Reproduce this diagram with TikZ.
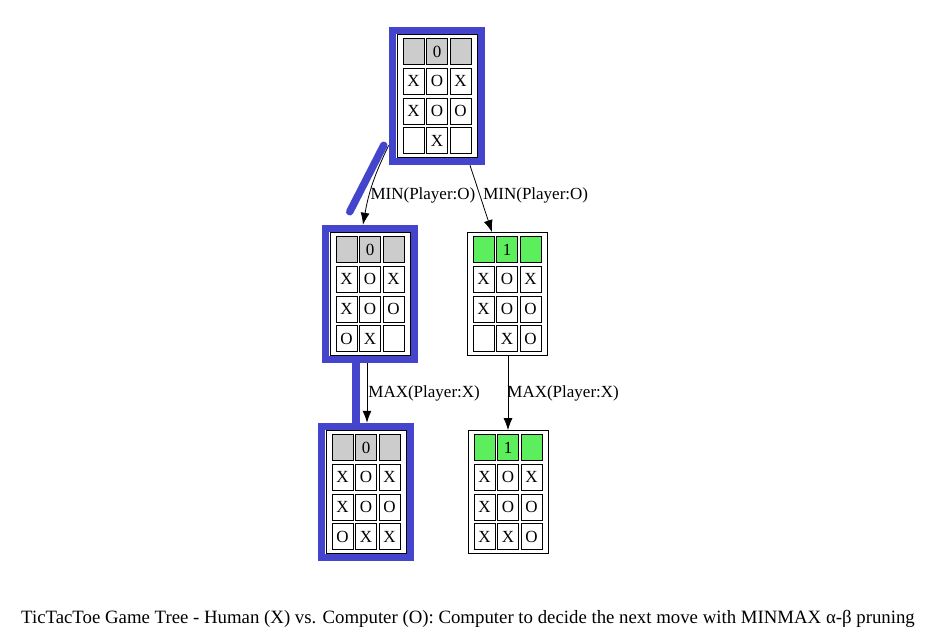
\documentclass[tikz,border=0pt]{standalone}
\usepackage{fontspec}
\setmainfont{Liberation Serif}
\usepackage{tikz}
\usetikzlibrary{calc,arrows.meta}
\definecolor{path_blue}{RGB}{68,68,204}
\definecolor{win_green}{RGB}{92,238,92}
\definecolor{score_gray}{RGB}{204,204,204}

% One board: name, fill of the score row, score, the three rows of marks
\newcommand{\board}[4]{%
  \foreach \cx [count=\ci] in {-23.5,0,23.5}
    \node[cell, fill=#2] (#1-0-\ci) at ($(#1)+(\cx,-44.5)$) {};
  \node[cell, draw=none] (#1-score) at ($(#1)+(0,-44.5)$) {#3};
  \foreach \ma/\mb/\mc [count=\row] in {#4} {
    \node[cell] (#1-\row-1) at ($(#1)+(-23.5,-44.5+29.7*\row)$) {\ma};
    \node[cell] (#1-\row-2) at ($(#1)+(0,-44.5+29.7*\row)$) {\mb};
    \node[cell] (#1-\row-3) at ($(#1)+(23.5,-44.5+29.7*\row)$) {\mc};
  }%
}

\begin{document}
\begin{tikzpicture}[
    x=1pt, y=-1pt,
    cell/.style={draw, line width=0.7pt, minimum width=21pt, minimum height=26pt,
                 inner sep=0pt, font=\fontsize{17}{17}\selectfont},
    frame/.style={draw, line width=0.8pt, fill=white, minimum width=80pt,
                  minimum height=123pt, inner sep=0pt},
    best/.style={draw=path_blue, line width=7.5pt, minimum width=89pt,
                 minimum height=131pt, inner sep=0pt},
    edge/.style={-{Latex[length=12pt,width=9pt]}, line width=0.8pt},
    bestline/.style={path_blue, line width=7.5pt},
    lbl/.style={font=\fontsize{17}{17}\selectfont, anchor=west, inner sep=1pt},
  ]
  \useasboundingbox (0,0) rectangle (926,635);

  % Boards on the chosen path
  \node[best] (root) at (437,96) {};
  \node[frame] (root-f) at (root) {};
  \board{root}{score_gray}{0}{X/O/X, X/O/O, /X/}

  \node[best] (minl) at (370,294) {};
  \node[frame] (minl-f) at (minl) {};
  \board{minl}{score_gray}{0}{X/O/X, X/O/O, O/X/}

  \node[best] (maxl) at (366,492) {};
  \node[frame] (maxl-f) at (maxl) {};
  \board{maxl}{score_gray}{0}{X/O/X, X/O/O, O/X/X}

  % Boards off the path
  \node[frame] (minr) at (507,294) {};
  \board{minr}{win_green}{1}{X/O/X, X/O/O, /X/O}

  \node[frame] (maxr) at (508,492) {};
  \board{maxr}{win_green}{1}{X/O/X, X/O/O, X/X/O}

  % Highlight of the chosen path
  \draw[bestline, line cap=round] ([xshift=-5pt, yshift=20pt]root.south west)
    -- ([xshift=28pt, yshift=13pt]minl.north west);
  \draw[bestline] ([xshift=-14pt]minl.south) -- ([xshift=-10pt]maxl.north);

  % Moves
  \draw[edge] ([yshift=20pt]root.south west) to[bend right=8]
    node[lbl, pos=0.66] {MIN(Player:O)} ([xshift=-7pt]minl.north);
  \draw[edge] ([xshift=33pt]root.south) --
    node[lbl, pos=0.45, xshift=2pt] {MIN(Player:O)} ([xshift=-15pt]minr.north);
  \draw[edge] ([xshift=-3pt]minl.south) --
    node[lbl, pos=0.5] {MAX(Player:X)} ([xshift=1pt]maxl.north);
  \draw[edge] ([xshift=1pt]minr.south) --
    node[lbl, pos=0.5, xshift=-2pt] {MAX(Player:X)} ([xshift=0pt]maxr.north);

  % Caption
  \node[font=\fontsize{18.8}{19}\selectfont] (caption) at (468,619)
    {TicTacToe Game Tree - Human (X) vs. Computer (O): Computer to decide the next move with MINMAX α-β pruning};
\end{tikzpicture}
\end{document}
